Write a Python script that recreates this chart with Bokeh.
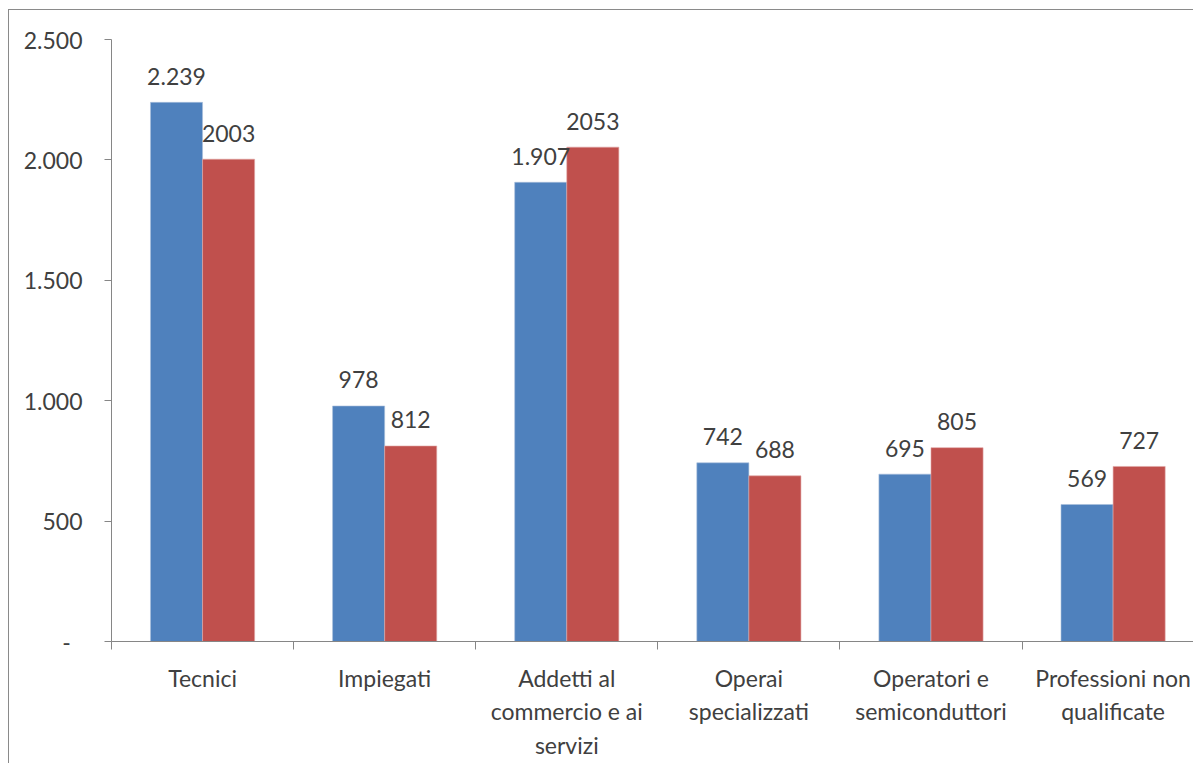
from bokeh.plotting import figure
from bokeh.models import ColumnDataSource, Range1d, FixedTicker
from bokeh.core.properties import value
from bokeh.embed import file_html
from bokeh.resources import INLINE

categories = ["Tecnici", "Impiegati", "Addetti al\ncommercio e ai\nservizi",
              "Operai\nspecializzati", "Operatori e\nsemiconduttori",
              "Professioni non\nqualificate"]
series_blue = [2239, 978, 1907, 742, 695, 569]
series_red = [2003, 812, 2053, 688, 805, 727]
y_ticks = [0, 500, 1000, 1500, 2000, 2500]
y_tick_labels = ["-\u00a0\u00a0", "500", "1.000", "1.500", "2.000", "2.500"]

FONT = "Lato"
FS = "23px"
TXT = "#404040"
BLUE = "#4F81BD"
RED = "#C0504D"

n = len(categories)
centers = [i + 0.5 for i in range(n)]
bw = 0.286

blue_src = ColumnDataSource(dict(
    x=[c - bw / 2 for c in centers], top=series_blue,
    label=[f"{v:,}".replace(",", ".") for v in series_blue]))
red_src = ColumnDataSource(dict(
    x=[c + bw / 2 for c in centers], top=series_red,
    label=[str(v) for v in series_red]))

p = figure(width=1185, height=754, output_backend="svg", toolbar_location=None,
           x_range=Range1d(0, 5.947), y_range=Range1d(0, 2500),
           min_border_left=102, min_border_right=0, min_border_top=29,
           min_border_bottom=123)
p.styles = {"border-top": "1px solid #8a8a8a", "border-left": "1px solid #8a8a8a",
            "margin": "9px 0 0 8px"}
p.outline_line_color = None
p.xgrid.visible = False
p.ygrid.visible = False

p.vbar(x="x", top="top", width=bw, bottom=0, source=blue_src,
       fill_color=BLUE, line_color="#a9bfdc", line_width=0.6)
p.vbar(x="x", top="top", width=bw, bottom=0, source=red_src,
       fill_color=RED, line_color="#e0a8a6", line_width=0.6)

for src in (blue_src, red_src):
    p.text(x="x", y="top", text="label", source=src,
           text_font=value(FONT), text_font_size=FS, text_color=TXT,
           text_align="center", text_baseline="alphabetic", y_offset=-26)

# y axis
ya = p.yaxis[0]
ya.ticker = FixedTicker(ticks=y_ticks)
ya.major_label_overrides = {t: l for t, l in zip(y_ticks, y_tick_labels)}
ya.axis_line_color = "#868686"
ya.major_tick_line_color = "#868686"
ya.major_tick_out = 7
ya.major_tick_in = 0
ya.minor_tick_line_color = None
ya.major_label_standoff = 22
ya.major_label_text_font = FONT
ya.major_label_text_font_size = FS
ya.major_label_text_color = TXT

# x axis
xa = p.xaxis[0]
xa.ticker = FixedTicker(ticks=centers, minor_ticks=list(range(n + 1)))
xa.major_label_overrides = {c: l for c, l in zip(centers, categories)}
xa.axis_line_color = "#868686"
xa.major_tick_line_color = None
xa.major_tick_out = 0
xa.major_tick_in = 0
xa.minor_tick_line_color = "#868686"
xa.minor_tick_out = 8
xa.minor_tick_in = 0
xa.major_label_standoff = 14
xa.major_label_text_font = FONT
xa.major_label_text_font_size = FS
xa.major_label_text_color = TXT
xa.major_label_text_line_height = 1.2

open("out.html", "w").write(file_html(p, INLINE))
